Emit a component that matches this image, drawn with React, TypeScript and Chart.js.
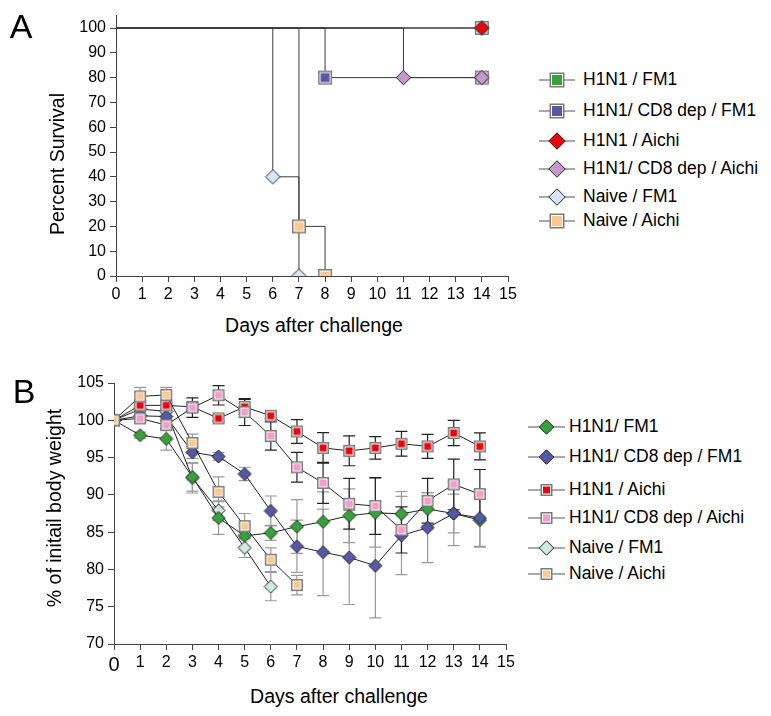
import React, { useEffect, useRef } from 'react';
import { Chart, registerables } from 'chart.js';
Chart.register(...registerables);

const FONT = '"Liberation Sans", Arial, Helvetica, sans-serif';

// ---------- colours ----------
const GREEN = '#34a33a';
const BLUE = '#5757a8';
const RED = '#e8050c';
const ORCHID = '#c598cd';
const LIGHTBLUE = '#d6e6f6';
const ORANGE = '#fbc98b';
const PINK = '#f59cc8';
const MINT = '#cfe9e0';

// ---------- Panel A: survival (Kaplan-Meier steps) ----------
const survLabels = ['H1N1 / FM1', 'H1N1/ CD8 dep / FM1', 'H1N1 / Aichi', 'H1N1/ CD8 dep / Aichi', 'Naive / FM1', 'Naive / Aichi'];
const survYTicks = [0, 10, 20, 30, 40, 50, 60, 70, 80, 90, 100];
const survDaysH1N1FM1 = [0, 14];
const survH1N1FM1 = [100, 100];
const survDaysCD8FM1 = [0, 8, 14];
const survCD8FM1 = [100, 80, 80];
const survDaysH1N1Aichi = [0, 14];
const survH1N1Aichi = [100, 100];
const survDaysCD8Aichi = [0, 11, 14];
const survCD8Aichi = [100, 80, 80];
const survDaysNaiveFM1 = [0, 6, 7];
const survNaiveFM1 = [100, 40, 0];
const survDaysNaiveAichi = [0, 7, 8];
const survNaiveAichi = [100, 20, 0];

// ---------- Panel B: body weight ----------
const weightLabels = ['H1N1/ FM1', 'H1N1/ CD8 dep / FM1', 'H1N1 / Aichi', 'H1N1/ CD8 dep / Aichi', 'Naive / FM1', 'Naive / Aichi'];
const days = [0, 1, 2, 3, 4, 5, 6, 7, 8, 9, 10, 11, 12, 13, 14];
const wH1N1FM1 = [100, 98.0, 97.5, 92.4, 86.9, 84.5, 84.9, 85.75, 86.4, 87.2, 87.6, 87.45, 88.1, 87.5, 86.6];
const eH1N1FM1 = [0, 0.4, 1.5, 1.9, 2.2, 1.5, 1.0, 3.6, 4.0, 3.6, 4.6, 3.0, 2.2, 2.6, 3.6];
const wCD8FM1 = [100, 100.6, 100.5, 95.7, 95.15, 92.8, 87.85, 83.1, 82.3, 81.6, 80.5, 84.55, 85.6, 87.5, 86.9];
const eCD8FM1 = [0, 0.5, 0.5, 0.8, 0.5, 0.9, 2.0, 3.5, 5.8, 6.3, 7.0, 5.25, 4.7, 4.3, 3.8];
const wH1N1Aichi = [100, 102.0, 102.0, 101.8, 100.25, 101.8, 100.6, 98.5, 96.3, 95.9, 96.3, 96.85, 96.5, 98.3, 96.5];
const eH1N1Aichi = [0, 0.4, 0.4, 0.5, 0.4, 1.0, 0.4, 1.6, 2.05, 2.0, 1.5, 1.65, 1.6, 1.7, 1.8];
const wCD8Aichi = [100, 100.25, 99.35, 101.7, 103.35, 101.1, 97.9, 93.7, 91.6, 88.8, 88.5, 85.3, 89.2, 91.4, 90.1];
const eCD8Aichi = [0, 0.5, 0.5, 1.3, 1.3, 1.8, 1.9, 2.0, 2.75, 3.4, 3.8, 3.1, 3.0, 3.4, 3.3];
const wNaiveFM1 = [100, 101.5, 101.2, 92.25, 87.9, 82.9, 77.7];
const eNaiveFM1 = [0, 1.2, 1.0, 2.0, 1.3, 1.3, 1.9];
const wNaiveAichi = [100, 103.2, 103.4, 96.95, 90.4, 85.8, 81.3, 77.9];
const eNaiveAichi = [0, 1.2, 1.0, 1.2, 2.0, 1.7, 1.6, 1.3];

const xTicks = [0, 15, 1];

// ---------- marker images ----------
function makeMarker(shape: string, size: number, fill: string): HTMLCanvasElement {
  const c = document.createElement('canvas');
  const s = Math.ceil(size) + 2;
  c.width = s;
  c.height = s;
  const g = c.getContext('2d') as CanvasRenderingContext2D;
  const m = s / 2;
  if (shape === 'sq') {
    const o = (s - size) / 2;
    g.fillStyle = '#7a7a7a';
    g.fillRect(o, o, size, size);
    g.fillStyle = '#ffffff';
    g.fillRect(o + 1.5, o + 1.5, size - 3, size - 3);
    g.fillStyle = fill;
    g.fillRect(o + 2.5, o + 2.5, size - 5, size - 5);
  } else {
    const h = size / 2;
    g.beginPath();
    g.moveTo(m, m - h);
    g.lineTo(m + h, m);
    g.lineTo(m, m + h);
    g.lineTo(m - h, m);
    g.closePath();
    g.fillStyle = fill;
    g.fill();
    g.strokeStyle = '#222';
    g.lineWidth = 1;
    g.stroke();
  }
  return c;
}

const errorBarPlugin = {
  id: 'errorBars',
  beforeDatasetsDraw(chart: any) {
    const { ctx } = chart;
    const xs = chart.scales.x;
    const ys = chart.scales.y;
    chart.data.datasets.forEach((ds: any) => {
      const errs = ds.errorBars;
      if (!errs) return;
      ctx.save();
      ctx.strokeStyle = ds.errorColor;
      ctx.lineWidth = 1.2;
      ds.data.forEach((pt: any, j: number) => {
        const e = errs[j];
        if (!e) return;
        const px = xs.getPixelForValue(pt.x);
        const top = ys.getPixelForValue(pt.y + e);
        const bot = ys.getPixelForValue(pt.y - e);
        ctx.beginPath();
        ctx.moveTo(px, top);
        ctx.lineTo(px, bot);
        ctx.moveTo(px - 6, top);
        ctx.lineTo(px + 6, top);
        ctx.moveTo(px - 6, bot);
        ctx.lineTo(px + 6, bot);
        ctx.stroke();
      });
      ctx.restore();
    });
  },
};

const axisCommon = {
  grid: { display: true, drawOnChartArea: false, drawTicks: true, tickLength: 6, tickColor: '#444', tickWidth: 1 },
  border: { display: true, color: '#444', width: 1 },
};

function survDataset(label: string, xs: number[], ys: number[], img: HTMLCanvasElement, order: number) {
  return {
    label,
    data: xs.map((x, i) => ({ x, y: ys[i] })),
    borderColor: '#3a3a3a',
    borderWidth: 1,
    stepped: true,
    pointStyle: img,
    pointRadius: (c: any) => (c.dataIndex === 0 ? 0 : 7),
    clip: 0,
    order,
  };
}

function weightDataset(label: string, vals: number[], errs: number[], img: HTMLCanvasElement, errColor: string, order: number) {
  return {
    label,
    data: vals.map((v, i) => ({ x: days[i], y: v })),
    borderColor: '#222',
    borderWidth: 1,
    pointStyle: img,
    pointRadius: 6,
    errorBars: errs,
    errorColor: errColor,
    order,
  };
}

function configA(): any {
  return {
    type: 'line',
    data: {
      datasets: [
        survDataset(survLabels[0], survDaysH1N1FM1, survH1N1FM1, makeMarker('sq', 14, GREEN), 6),
        survDataset(survLabels[1], survDaysCD8FM1, survCD8FM1, makeMarker('sq', 14, BLUE), 5),
        survDataset(survLabels[2], survDaysH1N1Aichi, survH1N1Aichi, makeMarker('di', 14.5, RED), 1),
        survDataset(survLabels[3], survDaysCD8Aichi, survCD8Aichi, makeMarker('di', 14.5, ORCHID), 2),
        survDataset(survLabels[4], survDaysNaiveFM1, survNaiveFM1, makeMarker('di', 14.5, LIGHTBLUE), 4),
        survDataset(survLabels[5], survDaysNaiveAichi, survNaiveAichi, makeMarker('sq', 14, ORANGE), 3),
      ],
    },
    options: {
      responsive: false,
      animation: false,
      events: [],
      layout: { padding: { top: 15.6, right: 12, left: 0, bottom: 0 } },
      plugins: { legend: { display: false }, tooltip: { enabled: false } },
      scales: {
        x: {
          type: 'linear', min: xTicks[0], max: xTicks[1],
          ticks: { stepSize: xTicks[2], autoSkip: false, maxRotation: 0, padding: 3, color: '#000', font: { family: FONT, size: 16 } },
          ...axisCommon,
          afterFit: (s: any) => { s.height = 34; },
        },
        y: {
          type: 'linear', min: 0, max: 105,
          ticks: { stepSize: 10, autoSkip: false, padding: 4, color: '#000', font: { family: FONT, size: 16 } },
          ...axisCommon,
          afterBuildTicks: (s: any) => { s.ticks = survYTicks.map((v) => ({ value: v })); },
          afterFit: (s: any) => { s.width = 116; },
        },
      },
    },
  };
}

function configB(): any {
  return {
    type: 'line',
    data: {
      datasets: [
        weightDataset(weightLabels[0], wH1N1FM1, eH1N1FM1, makeMarker('di', 13, GREEN), '#9a9a9a', 4),
        weightDataset(weightLabels[1], wCD8FM1, eCD8FM1, makeMarker('di', 13, BLUE), '#9a9a9a', 3),
        weightDataset(weightLabels[2], wH1N1Aichi, eH1N1Aichi, makeMarker('sq', 12, RED), '#222', 2),
        weightDataset(weightLabels[3], wCD8Aichi, eCD8Aichi, makeMarker('sq', 12, PINK), '#222', 1),
        weightDataset(weightLabels[4], wNaiveFM1, eNaiveFM1, makeMarker('di', 13, MINT), '#9a9a9a', 5),
        weightDataset(weightLabels[5], wNaiveAichi, eNaiveAichi, makeMarker('sq', 12, ORANGE), '#9a9a9a', 0),
      ],
    },
    options: {
      responsive: false,
      animation: false,
      events: [],
      layout: { padding: { top: 23, right: 14, left: 0, bottom: 0 } },
      plugins: { legend: { display: false }, tooltip: { enabled: false } },
      scales: {
        x: {
          type: 'linear', min: xTicks[0], max: xTicks[1],
          ticks: {
            stepSize: xTicks[2], autoSkip: false, maxRotation: 0, padding: 3, color: '#000',
            font: (c: any) => ({ family: FONT, size: c.tick && c.tick.value === 0 ? 20 : 16 }),
          },
          ...axisCommon,
          afterFit: (s: any) => { s.height = 36; },
        },
        y: {
          type: 'linear', min: 70, max: 105,
          ticks: { stepSize: 5, padding: 4, color: '#000', font: { family: FONT, size: 16 } },
          ...axisCommon,
          afterFit: (s: any) => { s.width = 114; },
        },
      },
    },
    plugins: [errorBarPlugin],
  };
}

// ---------- HTML text & legends ----------
function Txt(props: { x: number; y: number; size: number; rot?: boolean; children: any }) {
  const { x, y, size, rot, children } = props;
  return (
    <div
      style={{
        position: 'absolute', left: x, top: y, fontSize: size, lineHeight: 1, whiteSpace: 'nowrap',
        transform: `translate(-50%, -50%)${rot ? ' rotate(-90deg)' : ''}`,
      }}
    >
      {children}
    </div>
  );
}

function LegendMarker(props: { shape: string; size: number; fill: string; cx: number; cy: number }) {
  const { shape, size, fill, cx, cy } = props;
  if (shape === 'sq') {
    const h = size / 2;
    return (
      <g>
        <rect x={cx - h} y={cy - h} width={size} height={size} fill="#7a7a7a" />
        <rect x={cx - h + 1.5} y={cy - h + 1.5} width={size - 3} height={size - 3} fill="#fff" />
        <rect x={cx - h + 2.5} y={cy - h + 2.5} width={size - 5} height={size - 5} fill={fill} />
      </g>
    );
  }
  const h = size / 2;
  return (
    <polygon
      points={`${cx},${cy - h} ${cx + h},${cy} ${cx},${cy + h} ${cx - h},${cy}`}
      fill={fill}
      stroke="#222"
      strokeWidth={1}
    />
  );
}

function Legend(props: { rows: number[]; labels: string[]; shapes: string[]; fills: string[]; sizes: number[]; lineX0: number; lineX1: number; textX: number; font: number }) {
  const { rows, labels, shapes, fills, sizes, lineX0, lineX1, textX, font } = props;
  const cx = (lineX0 + lineX1) / 2;
  return (
    <>
      {rows.map((y, i) => (
        <React.Fragment key={i}>
          <svg style={{ position: 'absolute', left: lineX0 - 2, top: y - 12 }} width={lineX1 - lineX0 + 4} height={24}>
            <line x1={2} y1={12} x2={lineX1 - lineX0 + 2} y2={12} stroke="#555" strokeWidth={1} />
            <LegendMarker shape={shapes[i]} size={sizes[i]} fill={fills[i]} cx={cx - lineX0 + 2} cy={12} />
          </svg>
          <div style={{ position: 'absolute', left: textX, top: y, transform: 'translateY(-50%)', fontSize: font, lineHeight: 1, whiteSpace: 'nowrap' }}>
            {labels[i]}
          </div>
        </React.Fragment>
      ))}
    </>
  );
}

export default function App() {
  const refA = useRef<HTMLCanvasElement>(null);
  const refB = useRef<HTMLCanvasElement>(null);

  useEffect(() => {
    const a = new Chart(refA.current as HTMLCanvasElement, configA());
    const b = new Chart(refB.current as HTMLCanvasElement, configB());
    return () => {
      a.destroy();
      b.destroy();
    };
  }, []);

  return (
    <div style={{ position: 'absolute', left: 0, top: 0, width: 771, height: 716, background: '#fff', fontFamily: FONT, color: '#000', overflow: 'hidden' }}>
      <canvas ref={refA} width={520} height={310} style={{ position: 'absolute', left: 0, top: 0 }} />
      <canvas ref={refB} width={520} height={320} style={{ position: 'absolute', left: 0, top: 360 }} />

      <Txt x={21} y={26} size={34}>A</Txt>
      <Txt x={24} y={391} size={34}>B</Txt>

      <Txt x={58} y={164} size={19.5} rot>Percent Survival</Txt>
      <Txt x={314} y={326} size={19.5}>Days after challenge</Txt>
      <Txt x={55} y={508} size={19.5} rot>% of initail body weight</Txt>
      <Txt x={339} y={697} size={19.5}>Days after challenge</Txt>

      <Legend
        rows={[80, 110.5, 141, 168.5, 197, 221]}
        labels={survLabels}
        shapes={['sq', 'sq', 'di', 'di', 'di', 'sq']}
        fills={[GREEN, BLUE, RED, ORCHID, LIGHTBLUE, ORANGE]}
        sizes={[15, 15, 16.5, 16.5, 16.5, 15]}
        lineX0={539}
        lineX1={575}
        textX={583}
        font={17.5}
      />
      <Legend
        rows={[427, 457, 490, 518, 548, 574]}
        labels={weightLabels}
        shapes={['di', 'di', 'sq', 'sq', 'di', 'sq']}
        fills={[GREEN, BLUE, RED, PINK, MINT, ORANGE]}
        sizes={[14.5, 14.5, 12, 12, 14.5, 12]}
        lineX0={528}
        lineX1={565}
        textX={569}
        font={17.5}
      />
    </div>
  );
}
